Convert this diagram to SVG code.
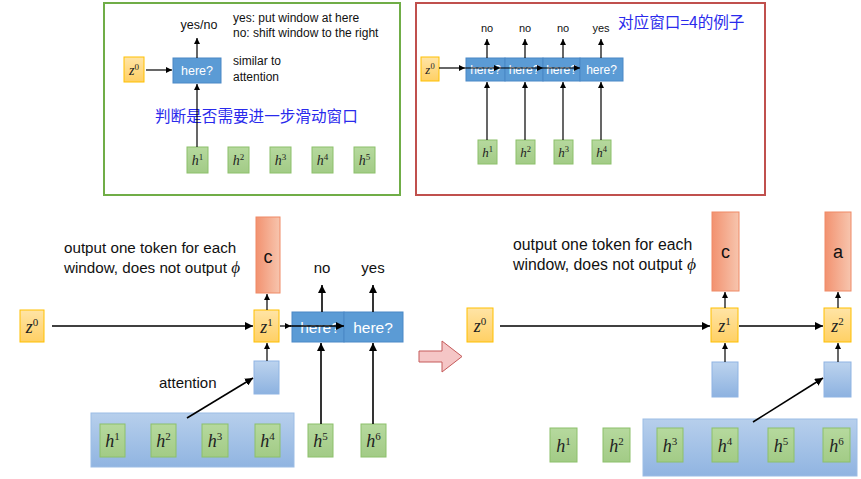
<svg xmlns="http://www.w3.org/2000/svg" width="861" height="479" viewBox="0 0 861 479">
<style>
.t{font-family:"Liberation Sans","Noto Sans",sans-serif;fill:#111}
.cn{font-family:"Noto Sans CJK SC","Liberation Sans",sans-serif;fill:#2a2aec}
.m{font-family:"Liberation Serif","DejaVu Serif",serif;font-style:italic;fill:#222}
.s{font-style:normal}
.wh{font-family:"Liberation Sans","Noto Sans",sans-serif;fill:#fff}
.z{fill:url(#zg);stroke:#ffc000;stroke-width:1}
.h{fill:url(#hg);stroke:#8cc06a;stroke-width:1}
.c{fill:url(#cg);stroke:#ef8a66;stroke-width:1}
.q{fill:#5b9bd5;stroke:#4a88c6;stroke-width:1}
.lb{fill:url(#lbg);stroke:#8fb4e3;stroke-width:1}
.bb{fill:url(#bbg);stroke:#9cbde5;stroke-width:1}
.a{stroke:#000;stroke-width:1.6;fill:none;marker-end:url(#ah)}
.as{stroke:#000;stroke-width:1.2;fill:none;marker-end:url(#ahs)}
</style>
<defs>
<marker id="ah" markerUnits="userSpaceOnUse" markerWidth="9" markerHeight="8" refX="8" refY="4" orient="auto"><path d="M0,0 L8,4 L0,8 z" fill="#000"/></marker>
<marker id="ahs" markerUnits="userSpaceOnUse" markerWidth="7" markerHeight="6" refX="6" refY="3" orient="auto"><path d="M0,0 L6,3 L0,6 z" fill="#000"/></marker>
<linearGradient id="zg" x1="0" y1="0" x2="0" y2="1"><stop offset="0" stop-color="#ffe4a6"/><stop offset="1" stop-color="#ffd064"/></linearGradient>
<linearGradient id="hg" x1="0" y1="0" x2="0" y2="1"><stop offset="0" stop-color="#b6d99e"/><stop offset="1" stop-color="#a2cb86"/></linearGradient>
<linearGradient id="cg" x1="0" y1="0" x2="1" y2="0"><stop offset="0" stop-color="#f29270"/><stop offset="1" stop-color="#f7c5ae"/></linearGradient>
<linearGradient id="lbg" x1="0" y1="0" x2="0" y2="1"><stop offset="0" stop-color="#bcd3ee"/><stop offset="1" stop-color="#8db2e0"/></linearGradient>
<linearGradient id="bbg" x1="0" y1="0" x2="0" y2="1"><stop offset="0" stop-color="#b7cfec"/><stop offset="1" stop-color="#90b4e1"/></linearGradient>
</defs>
<rect width="861" height="479" fill="#fff"/>

<!-- top-left panel -->
<g id="panel-left">
<rect x="104" y="3" width="296" height="192" fill="none" stroke="#70ad47" stroke-width="2"/>
<text class="t" x="199" y="29" font-size="12.5" text-anchor="middle">yes/no</text>
<text class="t" x="233" y="22" font-size="12">yes: put window at here</text>
<text class="t" x="233" y="37" font-size="12">no: shift window to the right</text>
<text class="t" x="233" y="65" font-size="12">similar to</text>
<text class="t" x="233" y="81" font-size="12">attention</text>
<text class="cn" x="155" y="122" font-size="15.6">判断是否需要进一步滑动窗口</text>
</g>
<g id="tl-z0"><rect class="z" x="124" y="57" width="20" height="25"/><text class="m" x="134" y="75" font-size="14" text-anchor="middle">z<tspan class="s" font-size="9" dy="-5">0</tspan></text></g>
<g id="tl-here"><rect class="q" x="173" y="58" width="48" height="25"/><text class="wh" x="197" y="75" font-size="12.5" text-anchor="middle">here?</text></g>
<g id="tl-h1"><rect class="h" x="187" y="147" width="21" height="26"/><text class="m" x="197.5" y="165" font-size="14" text-anchor="middle">h<tspan class="s" font-size="9" dy="-5">1</tspan></text></g>
<g id="tl-h2"><rect class="h" x="228" y="147" width="21" height="26"/><text class="m" x="238.5" y="165" font-size="14" text-anchor="middle">h<tspan class="s" font-size="9" dy="-5">2</tspan></text></g>
<g id="tl-h3"><rect class="h" x="270" y="147" width="21" height="26"/><text class="m" x="280.5" y="165" font-size="14" text-anchor="middle">h<tspan class="s" font-size="9" dy="-5">3</tspan></text></g>
<g id="tl-h4"><rect class="h" x="312" y="147" width="21" height="26"/><text class="m" x="322.5" y="165" font-size="14" text-anchor="middle">h<tspan class="s" font-size="9" dy="-5">4</tspan></text></g>
<g id="tl-h5"><rect class="h" x="354" y="147" width="21" height="26"/><text class="m" x="364.5" y="165" font-size="14" text-anchor="middle">h<tspan class="s" font-size="9" dy="-5">5</tspan></text></g>

<!-- top-right panel -->
<g id="panel-right">
<rect x="416" y="3" width="349" height="192" fill="none" stroke="#c0504d" stroke-width="2"/>
<text class="t" x="487" y="32" font-size="11" text-anchor="middle">no</text>
<text class="t" x="525" y="32" font-size="11" text-anchor="middle">no</text>
<text class="t" x="563" y="32" font-size="11" text-anchor="middle">no</text>
<text class="t" x="601" y="32" font-size="11" text-anchor="middle">yes</text>
<text class="cn" x="618" y="28" font-size="15.6">对应窗口=4的例子</text>
</g>
<g id="tr-z0"><rect class="z" x="421" y="57" width="18" height="24"/><text class="m" x="430" y="74" font-size="13" text-anchor="middle">z<tspan class="s" font-size="8.5" dy="-5">0</tspan></text></g>
<g id="tr-here1"><rect class="q" x="466" y="58" width="39" height="23"/><text class="wh" x="485.5" y="74" font-size="12" text-anchor="middle">here?</text></g>
<g id="tr-here2"><rect class="q" x="505" y="58" width="38" height="23"/><text class="wh" x="524" y="74" font-size="12" text-anchor="middle">here?</text></g>
<g id="tr-here3"><rect class="q" x="543" y="58" width="37" height="23"/><text class="wh" x="561.5" y="74" font-size="12" text-anchor="middle">here?</text></g>
<g id="tr-here4"><rect class="q" x="580" y="58" width="43" height="23"/><text class="wh" x="601.5" y="74" font-size="12" text-anchor="middle">here?</text></g>
<g id="tr-h1"><rect class="h" x="478" y="140" width="19" height="24"/><text class="m" x="487.5" y="157" font-size="13" text-anchor="middle">h<tspan class="s" font-size="8.5" dy="-5">1</tspan></text></g>
<g id="tr-h2"><rect class="h" x="516" y="140" width="19" height="24"/><text class="m" x="525.5" y="157" font-size="13" text-anchor="middle">h<tspan class="s" font-size="8.5" dy="-5">2</tspan></text></g>
<g id="tr-h3"><rect class="h" x="554" y="140" width="19" height="24"/><text class="m" x="563.5" y="157" font-size="13" text-anchor="middle">h<tspan class="s" font-size="8.5" dy="-5">3</tspan></text></g>
<g id="tr-h4"><rect class="h" x="592" y="140" width="19" height="24"/><text class="m" x="601.5" y="157" font-size="13" text-anchor="middle">h<tspan class="s" font-size="8.5" dy="-5">4</tspan></text></g>

<!-- bottom-left -->
<g id="bl-text">
<text class="t" x="64" y="253" font-size="15.2">output one token for each</text>
<text class="t" x="64" y="273" font-size="15.2">window, does not output <tspan font-family="Liberation Serif,serif" font-style="italic" font-size="17">ϕ</tspan></text>
<text class="t" x="159" y="388" font-size="15">attention</text>
<text class="t" x="322" y="273" font-size="15" text-anchor="middle">no</text>
<text class="t" x="373" y="273" font-size="15" text-anchor="middle">yes</text>
</g>
<g id="bl-z0"><rect class="z" x="20" y="310" width="24" height="32"/><text class="m" x="32" y="333" font-size="18" text-anchor="middle">z<tspan class="s" font-size="11" dy="-7">0</tspan></text></g>
<g id="bl-z1"><rect class="z" x="254" y="310" width="25" height="32"/><text class="m" x="266.5" y="333" font-size="18" text-anchor="middle">z<tspan class="s" font-size="11" dy="-7">1</tspan></text></g>
<g id="bl-c"><rect class="c" x="256" y="217" width="24" height="76"/><text class="t" x="268" y="263" font-size="18" text-anchor="middle">c</text></g>
<g id="bl-att"><rect class="lb" x="254" y="361" width="25" height="33"/></g>
<g id="bl-window"><rect class="bb" x="91" y="413" width="203" height="54"/></g>
<g id="bl-here1"><rect class="q" x="292" y="312" width="52" height="30"/><text class="wh" x="320" y="333" font-size="15.5" text-anchor="middle">here?</text></g>
<g id="bl-here2"><rect class="q" x="344" y="312" width="59" height="30"/><text class="wh" x="373" y="333" font-size="15.5" text-anchor="middle">here?</text></g>
<g id="bl-h1"><rect class="h" x="100" y="424" width="25" height="33"/><text class="m" x="112.5" y="447" font-size="18" text-anchor="middle">h<tspan class="s" font-size="11" dy="-7">1</tspan></text></g>
<g id="bl-h2"><rect class="h" x="151" y="424" width="25" height="33"/><text class="m" x="163.5" y="447" font-size="18" text-anchor="middle">h<tspan class="s" font-size="11" dy="-7">2</tspan></text></g>
<g id="bl-h3"><rect class="h" x="202" y="424" width="26" height="33"/><text class="m" x="215" y="447" font-size="18" text-anchor="middle">h<tspan class="s" font-size="11" dy="-7">3</tspan></text></g>
<g id="bl-h4"><rect class="h" x="255" y="424" width="25" height="33"/><text class="m" x="267.5" y="447" font-size="18" text-anchor="middle">h<tspan class="s" font-size="11" dy="-7">4</tspan></text></g>
<g id="bl-h5"><rect class="h" x="308" y="424" width="25" height="33"/><text class="m" x="320.5" y="447" font-size="18" text-anchor="middle">h<tspan class="s" font-size="11" dy="-7">5</tspan></text></g>
<g id="bl-h6"><rect class="h" x="361" y="424" width="25" height="33"/><text class="m" x="373.5" y="447" font-size="18" text-anchor="middle">h<tspan class="s" font-size="11" dy="-7">6</tspan></text></g>

<!-- transition arrow -->
<g id="big-arrow"><polygon points="419,351 442,351 442,341 462,356.5 442,372 442,362 419,362" fill="#f5c6c6" stroke="#c55a5a" stroke-width="1"/></g>

<!-- bottom-right -->
<g id="br-text">
<text class="t" x="513" y="250" font-size="15.8">output one token for each</text>
<text class="t" x="513" y="270" font-size="15.8">window, does not output <tspan font-family="Liberation Serif,serif" font-style="italic" font-size="17.5">ϕ</tspan></text>
</g>
<g id="br-z0"><rect class="z" x="467" y="308" width="26" height="34"/><text class="m" x="480" y="332" font-size="18" text-anchor="middle">z<tspan class="s" font-size="11" dy="-7">0</tspan></text></g>
<g id="br-z1"><rect class="z" x="711" y="308" width="27" height="34"/><text class="m" x="724.5" y="332" font-size="18" text-anchor="middle">z<tspan class="s" font-size="11" dy="-7">1</tspan></text></g>
<g id="br-z2"><rect class="z" x="824" y="308" width="27" height="34"/><text class="m" x="837.5" y="332" font-size="18" text-anchor="middle">z<tspan class="s" font-size="11" dy="-7">2</tspan></text></g>
<g id="br-c"><rect class="c" x="712" y="212" width="27" height="79"/><text class="t" x="725.5" y="258" font-size="18" text-anchor="middle">c</text></g>
<g id="br-a"><rect class="c" x="825" y="212" width="26" height="79"/><text class="t" x="838" y="258" font-size="18" text-anchor="middle">a</text></g>
<g id="br-att1"><rect class="lb" x="712" y="362" width="26" height="35"/></g>
<g id="br-att2"><rect class="lb" x="824" y="362" width="27" height="35"/></g>
<g id="br-window"><rect class="bb" x="643" y="419" width="214" height="57"/></g>
<g id="br-h1"><rect class="h" x="550" y="428" width="27" height="34"/><text class="m" x="563.5" y="452" font-size="18" text-anchor="middle">h<tspan class="s" font-size="11" dy="-7">1</tspan></text></g>
<g id="br-h2"><rect class="h" x="603" y="428" width="27" height="34"/><text class="m" x="616.5" y="452" font-size="18" text-anchor="middle">h<tspan class="s" font-size="11" dy="-7">2</tspan></text></g>
<g id="br-h3"><rect class="h" x="657" y="428" width="26" height="34"/><text class="m" x="670" y="452" font-size="18" text-anchor="middle">h<tspan class="s" font-size="11" dy="-7">3</tspan></text></g>
<g id="br-h4"><rect class="h" x="712" y="428" width="26" height="34"/><text class="m" x="725" y="452" font-size="18" text-anchor="middle">h<tspan class="s" font-size="11" dy="-7">4</tspan></text></g>
<g id="br-h5"><rect class="h" x="768" y="428" width="26" height="34"/><text class="m" x="781" y="452" font-size="18" text-anchor="middle">h<tspan class="s" font-size="11" dy="-7">5</tspan></text></g>
<g id="br-h6"><rect class="h" x="823" y="428" width="27" height="34"/><text class="m" x="836.5" y="452" font-size="18" text-anchor="middle">h<tspan class="s" font-size="11" dy="-7">6</tspan></text></g>

<g id="connectors">
<!-- top-left -->
<line class="as" x1="146" y1="70" x2="172" y2="70"/>
<line class="as" x1="197" y1="58" x2="197" y2="38"/>
<line class="as" x1="197" y1="147" x2="197" y2="84"/>
<!-- top-right -->
<line class="as" x1="439" y1="68" x2="465" y2="68"/>
<line class="as" x1="465" y1="68" x2="500" y2="68"/>
<line class="as" x1="500" y1="68" x2="543" y2="68"/>
<line class="as" x1="543" y1="68" x2="580" y2="68"/>
<line class="as" x1="487" y1="58" x2="487" y2="39"/>
<line class="as" x1="525" y1="58" x2="525" y2="39"/>
<line class="as" x1="563" y1="58" x2="563" y2="39"/>
<line class="as" x1="601" y1="58" x2="601" y2="39"/>
<line class="as" x1="487" y1="140" x2="487" y2="82"/>
<line class="as" x1="525" y1="140" x2="525" y2="82"/>
<line class="as" x1="563" y1="140" x2="563" y2="82"/>
<line class="as" x1="601" y1="140" x2="601" y2="82"/>
<!-- bottom-left -->
<line class="a" x1="52" y1="326" x2="253" y2="326"/>
<line class="as" x1="267" y1="310" x2="267" y2="294"/>
<line class="as" x1="267" y1="361" x2="267" y2="343"/>
<line class="a" x1="187" y1="418" x2="253" y2="378"/>
<line class="as" x1="280" y1="326" x2="291" y2="326"/>
<line class="a" x1="290" y1="326" x2="344" y2="326" stroke-width="2.2"/>
<line class="a" x1="322" y1="312" x2="322" y2="285"/>
<line class="a" x1="373" y1="312" x2="373" y2="285"/>
<line class="a" x1="321" y1="424" x2="321" y2="343"/>
<line class="a" x1="373" y1="424" x2="373" y2="343"/>
<!-- bottom-right -->
<line class="a" x1="500" y1="326" x2="710" y2="326"/>
<line class="a" x1="739" y1="326" x2="823" y2="326" stroke-width="2.4"/>
<line class="as" x1="725" y1="308" x2="725" y2="292"/>
<line class="as" x1="838" y1="308" x2="838" y2="292"/>
<line class="as" x1="725" y1="362" x2="725" y2="343"/>
<line class="as" x1="838" y1="362" x2="838" y2="343"/>
<line class="a" x1="753" y1="422" x2="823" y2="378"/>
</g>
</svg>
